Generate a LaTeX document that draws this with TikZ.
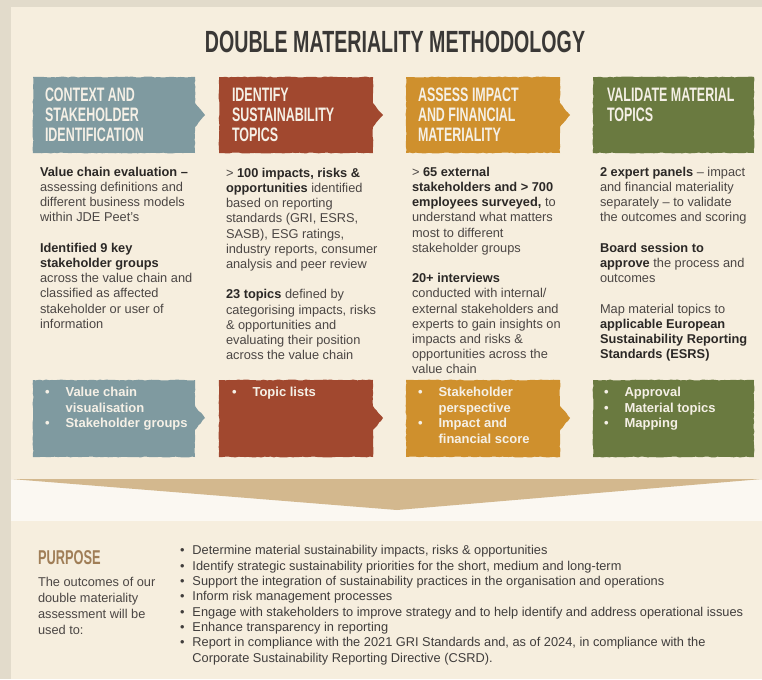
\documentclass[tikz,border=0pt]{standalone}
\usepackage{fontspec}
\setmainfont{Liberation Sans}
\newfontfamily\headfont[FakeStretch=0.64]{Liberation Sans}
\usetikzlibrary{positioning,decorations.pathmorphing}

\definecolor{outerbg}{HTML}{E2DBCB}
\definecolor{cream}{HTML}{F6EEDE}
\definecolor{paleband}{HTML}{FBF8F2}
\definecolor{tanband}{HTML}{D3B88E}
\definecolor{ctxblue}{HTML}{7F9AA0}
\definecolor{idrust}{HTML}{A1482F}
\definecolor{asochre}{HTML}{CF902D}
\definecolor{valgreen}{HTML}{6A7A40}
\definecolor{headwhite}{HTML}{F5F0E6}
\definecolor{inkdark}{HTML}{2B2826}
\definecolor{inkbody}{HTML}{4B4644}
\definecolor{titleink}{HTML}{3A3836}
\definecolor{purposebrown}{HTML}{A07E57}

\newcommand{\kw}[1]{{\color{inkdark}\bfseries #1}}

\begin{document}
\begin{tikzpicture}[
    x=0.75pt, y=-0.75pt,
    every node/.style={inner sep=0pt, outer sep=0pt},
    torn/.style={decorate, decoration={random steps, segment length=2.4pt, amplitude=0.35pt}},
    headtext/.style={anchor=north west, align=left, text=headwhite,
      font=\headfont\bfseries\fontsize{14.6}{15}\selectfont},
    bodytext/.style={anchor=north west, align=left, text=inkbody,
      font=\fontsize{9.6}{11.4}\selectfont},
    listtext/.style={anchor=north west, text=headwhite,
      font=\bfseries\fontsize{9.75}{11.6}\selectfont},
  ]
    \useasboundingbox (0,0) rectangle (762,679);

    % -------- background: paper, cream panel, pale band with wedge --------
    \fill[outerbg] (0,0) rectangle (762,679);
    \fill[cream] (11,7) rectangle (762,679);
    \fill[paleband] (11,479) rectangle (762,521);
    \fill[tanband] (11,479) -- (762,479) -- (397,510) -- cycle;

    \node[font=\headfont\bfseries\fontsize{23}{26}\selectfont, text=titleink] (title)
      at (395,42) {DOUBLE MATERIALITY METHODOLOGY};

    % -------- step boxes, top row (titles) and bottom row (outputs) --------
    \foreach \xl/\xr/\col in {33/195/ctxblue, 219/373/idrust, 406/560/asochre} {
      \fill[\col, torn] (\xl,77) -- (\xr,77) -- (\xr,103) -- (\xr+10,115) -- (\xr,127) -- (\xr,153) -- (\xl,153) -- cycle;
      \fill[\col, torn] (\xl,380) -- (\xr,380) -- (\xr,406) -- (\xr+10,418) -- (\xr,430) -- (\xr,457) -- (\xl,457) -- cycle;
    }
    \fill[valgreen, torn] (593,77) rectangle (754,153);
    \fill[valgreen, torn] (593,380) rectangle (754,457);

    \node[headtext] (head1) at (45,88) {CONTEXT AND\\STAKEHOLDER\\IDENTIFICATION};
    \node[headtext] (head2) at (232,88) {IDENTIFY\\SUSTAINABILITY\\TOPICS};
    \node[headtext] (head3) at (418,88) {ASSESS IMPACT\\AND FINANCIAL\\MATERIALITY};
    \node[headtext] (head4) at (607,88) {VALIDATE MATERIAL\\TOPICS};

    % -------- column texts --------
    \node[bodytext] (body1) at (40,167) {%
      \kw{Value chain evaluation –}\\
      assessing definitions and\\
      different business models\\
      within JDE Peet’s\\[11.4pt]
      \kw{Identified 9 key}\\
      \kw{stakeholder groups}\\
      across the value chain and\\
      classified as affected\\
      stakeholder or user of\\
      information};
    \node[bodytext] (body2) at (226,168) {%
      > \kw{100 impacts, risks \&}\\
      \kw{opportunities} identified\\
      based on reporting\\
      standards (GRI, ESRS,\\
      SASB), ESG ratings,\\
      industry reports, consumer\\
      analysis and peer review\\[11.4pt]
      \kw{23 topics} defined by\\
      categorising impacts, risks\\
      \& opportunities and\\
      evaluating their position\\
      across the value chain};
    \node[bodytext] (body3) at (412,167) {%
      > \kw{65 external}\\
      \kw{stakeholders and > 700}\\
      \kw{employees surveyed,} to\\
      understand what matters\\
      most to different\\
      stakeholder groups\\[11.4pt]
      \kw{20+ interviews}\\
      conducted with internal/\\
      external stakeholders and\\
      experts to gain insights on\\
      impacts and risks \&\\
      opportunities across the\\
      value chain};
    \node[bodytext] (body4) at (600,167) {%
      \kw{2 expert panels} – impact\\
      and financial materiality\\
      separately – to validate\\
      the outcomes and scoring\\[11.4pt]
      \kw{Board session to}\\
      \kw{approve} the process and\\
      outcomes\\[11.4pt]
      Map material topics to\\
      \kw{applicable European}\\
      \kw{Sustainability Reporting}\\
      \kw{Standards (ESRS)}};

    % -------- output lists --------
    \node[listtext] (list1) at (45,386) {\begin{tabular}{@{}l@{\hspace{12pt}}l@{}}
      \textbullet & Value chain\\ & visualisation\\ \textbullet & Stakeholder groups\end{tabular}};
    \node[listtext] (list2) at (232,386) {\begin{tabular}{@{}l@{\hspace{12pt}}l@{}}
      \textbullet & Topic lists\end{tabular}};
    \node[listtext] (list3) at (418,386) {\begin{tabular}{@{}l@{\hspace{12pt}}l@{}}
      \textbullet & Stakeholder\\ & perspective\\ \textbullet & Impact and\\ & financial score\end{tabular}};
    \node[listtext] (list4) at (604,386) {\begin{tabular}{@{}l@{\hspace{12pt}}l@{}}
      \textbullet & Approval\\ \textbullet & Material topics\\ \textbullet & Mapping\end{tabular}};

    % -------- purpose --------
    \node[anchor=west, text=purposebrown, font=\headfont\bfseries\fontsize{15}{17}\selectfont]
      (purposehead) at (38,558) {PURPOSE};
    \node[below=9pt of purposehead.south west, anchor=north west, align=left, text=inkbody,
      font=\fontsize{9.6}{12}\selectfont] (purposetext)
      {The outcomes of our\\double materiality\\assessment will be\\used to:};
    \node[anchor=north west, text=inkdark!90, font=\fontsize{9.6}{11.5}\selectfont] (purposelist)
      at (180,544) {\begin{tabular}{@{}l@{\hspace{6pt}}l@{}}
      \textbullet & Determine material sustainability impacts, risks \& opportunities\\
      \textbullet & Identify strategic sustainability priorities for the short, medium and long-term\\
      \textbullet & Support the integration of sustainability practices in the organisation and operations\\
      \textbullet & Inform risk management processes\\
      \textbullet & Engage with stakeholders to improve strategy and to help identify and address operational issues\\
      \textbullet & Enhance transparency in reporting\\
      \textbullet & Report in compliance with the 2021 GRI Standards and, as of 2024, in compliance with the\\
                  & Corporate Sustainability Reporting Directive (CSRD).
      \end{tabular}};
  \end{tikzpicture}
\end{document}
